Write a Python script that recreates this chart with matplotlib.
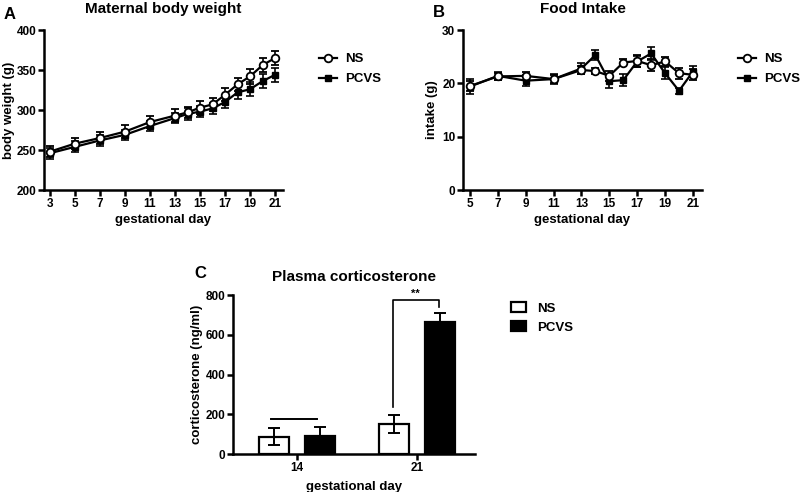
import numpy as np
from matplotlib import pyplot as plt

plt.rcParams['font.family'] = ['Liberation Sans', 'DejaVu Sans']
plt.rcParams['font.weight'] = 'bold'

# A: maternal body weight
days_a = [3, 5, 7, 9, 11, 13, 14, 15, 16, 17, 18, 19, 20, 21]
bw_ns = [248, 258, 265, 273, 285, 293, 297, 303, 307, 319, 332, 342, 356, 365]
bw_ns_err = [7, 7, 7, 8, 8, 8, 7, 8, 8, 8, 8, 9, 9, 9]
bw_pcvs = [246, 254, 262, 269, 280, 290, 295, 298, 302, 310, 322, 326, 336, 344]
bw_pcvs_err = [7, 7, 7, 6, 6, 6, 7, 7, 7, 8, 8, 9, 9, 9]

# B: food intake
days_b = [5, 7, 9, 11, 13, 14, 15, 16, 17, 18, 19, 20, 21]
fi_ns = [19.5, 21.3, 21.4, 20.8, 22.5, 22.3, 21.4, 23.9, 24.2, 23.4, 24.1, 21.9, 21.6]
fi_ns_err = [1.0, 0.6, 0.8, 0.8, 0.8, 0.5, 1.0, 0.6, 1.1, 1.1, 0.8, 1.0, 1.0]
fi_pcvs = [19.4, 21.4, 20.5, 20.8, 22.8, 25.3, 20.4, 20.6, 24.1, 25.6, 21.9, 18.6, 22.2]
fi_pcvs_err = [1.4, 0.7, 1.0, 1.0, 1.0, 1.0, 1.3, 1.1, 1.1, 1.3, 1.1, 0.6, 1.1]

# C: plasma corticosterone
groups = ['14', '21']
cort_ns = [87, 151]
cort_ns_err = [42, 45]
cort_pcvs = [92, 666]
cort_pcvs_err = [42, 42]

fig = plt.figure(figsize=(8, 4.92), dpi=100)


def style(ax, size=8.5):
    for s in ['top', 'right']:
        ax.spines[s].set_visible(False)
    for s in ['left', 'bottom']:
        ax.spines[s].set_linewidth(1.8)
    ax.tick_params(width=1.8, length=4, labelsize=size, pad=1.5)
    for lab in ax.get_xticklabels() + ax.get_yticklabels():
        lab.set_fontweight('bold')


def lines(ax, x, ns, ns_e, pc, pc_e):
    e1 = ax.errorbar(x, ns, yerr=ns_e, color='black', lw=1.6, marker='o', ms=5.5,
                     mfc='white', mec='black', mew=1.3, capsize=3, elinewidth=1.2,
                     capthick=1.2, zorder=3)
    e2 = ax.errorbar(x, pc, yerr=pc_e, color='black', lw=1.6, marker='s', ms=5,
                     mfc='black', mec='black', capsize=3, elinewidth=1.2,
                     capthick=1.2, zorder=2)
    # legend shows only line + marker, no error bars
    ax.legend([e1.lines[0], e2.lines[0]], ['NS', 'PCVS'],
              loc='upper left', bbox_to_anchor=(1.10, 0.93), frameon=False,
              prop={'weight': 'bold', 'size': 9.5}, handlelength=1.4,
              handletextpad=0.6, labelspacing=0.6)


# panel A
ax = fig.add_axes([0.055, 0.6138, 0.29875, 0.3252])
lines(ax, days_a, bw_ns, bw_ns_err, bw_pcvs, bw_pcvs_err)
ax.set_xlim(2.52, 21.64)
ax.set_ylim(200, 400)
ax.set_xticks([3, 5, 7, 9, 11, 13, 15, 17, 19, 21])
ax.set_yticks([200, 250, 300, 350, 400])
ax.set_xlabel('gestational day', fontsize=9.5, fontweight='bold', labelpad=3)
ax.set_ylabel('body weight (g)', fontsize=9.5, fontweight='bold', labelpad=1)
ax.set_title('Maternal body weight', fontsize=11, fontweight='bold', pad=12.5)
style(ax)
fig.text(0.004, 0.97, 'A', fontsize=12, fontweight='bold', va='center')

# panel B
ax = fig.add_axes([0.57875, 0.6138, 0.29875, 0.3252])
lines(ax, days_b, fi_ns, fi_ns_err, fi_pcvs, fi_pcvs_err)
ax.set_xlim(4.5, 21.65)
ax.set_ylim(0, 30)
ax.set_xticks([5, 7, 9, 11, 13, 15, 17, 19, 21])
ax.set_yticks([0, 10, 20, 30])
ax.set_xlabel('gestational day', fontsize=9.5, fontweight='bold', labelpad=3)
ax.set_ylabel('intake (g)', fontsize=9.5, fontweight='bold', labelpad=3)
ax.set_title('Food Intake', fontsize=11, fontweight='bold', pad=12.5)
style(ax)
fig.text(0.541, 0.975, 'B', fontsize=12, fontweight='bold', va='center')

# panel C
ax = fig.add_axes([0.29125, 0.0772, 0.3025, 0.3232])
x = np.arange(len(groups))
w = 0.25
off = 0.188
ax.bar(x - off, cort_ns, w, yerr=cort_ns_err, color='white', edgecolor='black',
       linewidth=1.6, capsize=4, error_kw=dict(elinewidth=1.4, capthick=1.4),
       label='NS')
ax.bar(x + off, cort_pcvs, w, yerr=cort_pcvs_err, color='black', edgecolor='black',
       linewidth=1.6, capsize=4, error_kw=dict(elinewidth=1.4, capthick=1.4),
       label='PCVS')
ax.plot([x[0] - 0.22, x[0] + 0.17], [174, 174], color='black', lw=1.4)
ax.plot([x[1] - 0.2, x[1] - 0.2, x[1] + 0.18, x[1] + 0.18],
        [238, 775, 775, 741], color='black', lw=1.2)
ax.text(x[1] - 0.01, 780, '**', ha='center', va='bottom', fontsize=8,
        fontweight='bold')
ax.set_xlim(-0.533, 1.483)
ax.set_ylim(0, 800)
ax.set_xticks(x)
ax.set_xticklabels(groups)
ax.set_yticks([0, 200, 400, 600, 800])
ax.set_xlabel('gestational day', fontsize=9.5, fontweight='bold', labelpad=5)
ax.set_ylabel('corticosterone (ng/ml)', fontsize=9.5, fontweight='bold', labelpad=2)
ax.set_title('Plasma corticosterone', fontsize=11, fontweight='bold', pad=10)
style(ax, 8.5)
ax.legend(loc='upper left', bbox_to_anchor=(1.10, 1.03), frameon=False,
          prop={'weight': 'bold', 'size': 9.5}, handlelength=1.15,
          handleheight=0.75, handletextpad=0.8, labelspacing=0.5)
fig.text(0.243, 0.445, 'C', fontsize=12, fontweight='bold', va='center')

fig.savefig('out.png', dpi=100)
